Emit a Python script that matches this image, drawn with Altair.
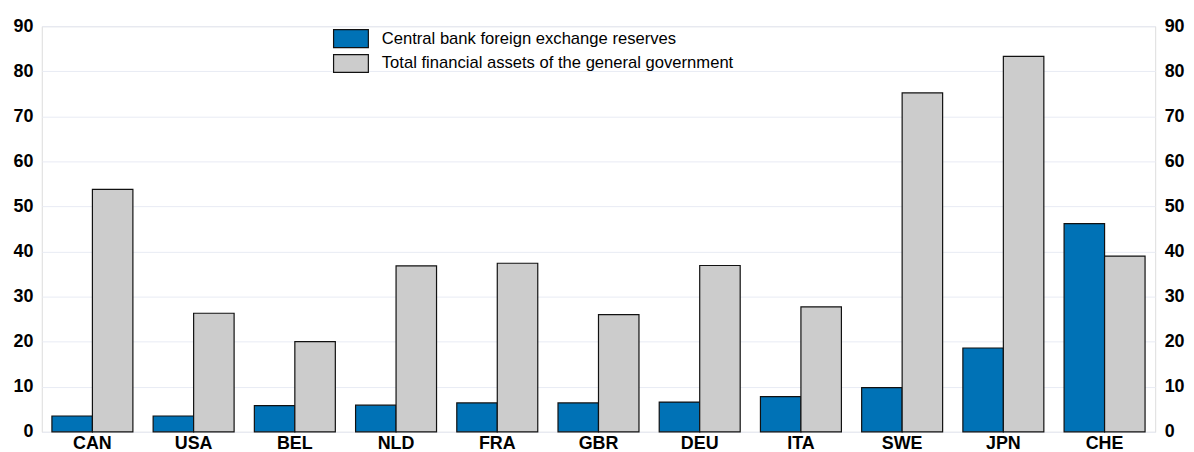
import altair as alt
import pandas as pd

countries = ["CAN", "USA", "BEL", "NLD", "FRA", "GBR", "DEU", "ITA", "SWE", "JPN", "CHE"]
reserves = [3.5, 3.5, 5.8, 5.9, 6.4, 6.4, 6.6, 7.8, 9.8, 18.6, 46.2]
assets = [53.8, 26.3, 20.0, 36.8, 37.4, 26.0, 36.9, 27.7, 75.2, 83.3, 39.0]
series = ["Central bank foreign exchange reserves",
          "Total financial assets of the general government"]
colors = ["#0072b6", "#cccccc"]
yticks = [0, 10, 20, 30, 40, 50, 60, 70, 80, 90]

rows = []
for c, r, a in zip(countries, reserves, assets):
    rows.append({"country": c, "series": series[0], "value": r})
    rows.append({"country": c, "series": series[1], "value": a})
df = pd.DataFrame(rows)

FONT = "Liberation Sans"

x_enc = alt.X("country:N", sort=countries,
              scale=alt.Scale(paddingInner=0.2, paddingOuter=0.1),
              axis=alt.Axis(title=None, labelAngle=0, domain=False, ticks=False,
                            tickSize=0, labelPadding=3, labelFontSize=18,
                            labelFontWeight="bold", labelFont=FONT,
                            labelColor="#000000", grid=False))
xo_enc = alt.XOffset("series:N", sort=series,
                     scale=alt.Scale(paddingInner=0, paddingOuter=0))
yscale = alt.Scale(domain=[0, 90], nice=False)

bars = alt.Chart(df).mark_bar(stroke="#111111", strokeWidth=1.2).encode(
    x=x_enc,
    xOffset=xo_enc,
    y=alt.Y("value:Q", scale=yscale,
            axis=alt.Axis(title=None, orient="left", values=yticks, domain=False,
                          ticks=False, tickSize=0, labelPadding=9,
                          labelFontSize=18, labelFontWeight="bold", labelFont=FONT,
                          labelColor="#000000", grid=True, gridColor="#e8ebf4",
                          gridWidth=1)),
    color=alt.Color("series:N",
                    scale=alt.Scale(domain=series, range=colors),
                    legend=alt.Legend(title=None, orient="none",
                                      legendX=301, legendY=2.5, padding=0,
                                      symbolType="M-1.944,-1H1.944V1H-1.944Z",
                                      symbolSize=324, symbolStrokeColor="#111111",
                                      symbolStrokeWidth=1.2, symbolOpacity=1,
                                      labelOffset=21, rowPadding=1,
                                      labelFontSize=16.7, labelFont=FONT,
                                      labelColor="#000000", labelLimit=0)),
)

right = alt.Chart(df).mark_bar(opacity=0).encode(
    x=x_enc,
    xOffset=xo_enc,
    y=alt.Y("value:Q", scale=yscale,
            axis=alt.Axis(title=None, orient="right", values=yticks, domain=False,
                          ticks=False, tickSize=0, labelPadding=9,
                          labelFontSize=18, labelFontWeight="bold", labelFont=FONT,
                          labelColor="#000000", grid=False)),
)

chart = alt.layer(bars, right).resolve_axis(y="independent").properties(
    width=1120,
    height=408,
    autosize=alt.AutoSizeParams(type="none"),
    padding={"left": 34, "top": 17, "right": 31, "bottom": 19},
).configure_view(stroke=None).configure(background="white")

chart.save("out.html", embed_options={"renderer": "svg", "actions": False})
